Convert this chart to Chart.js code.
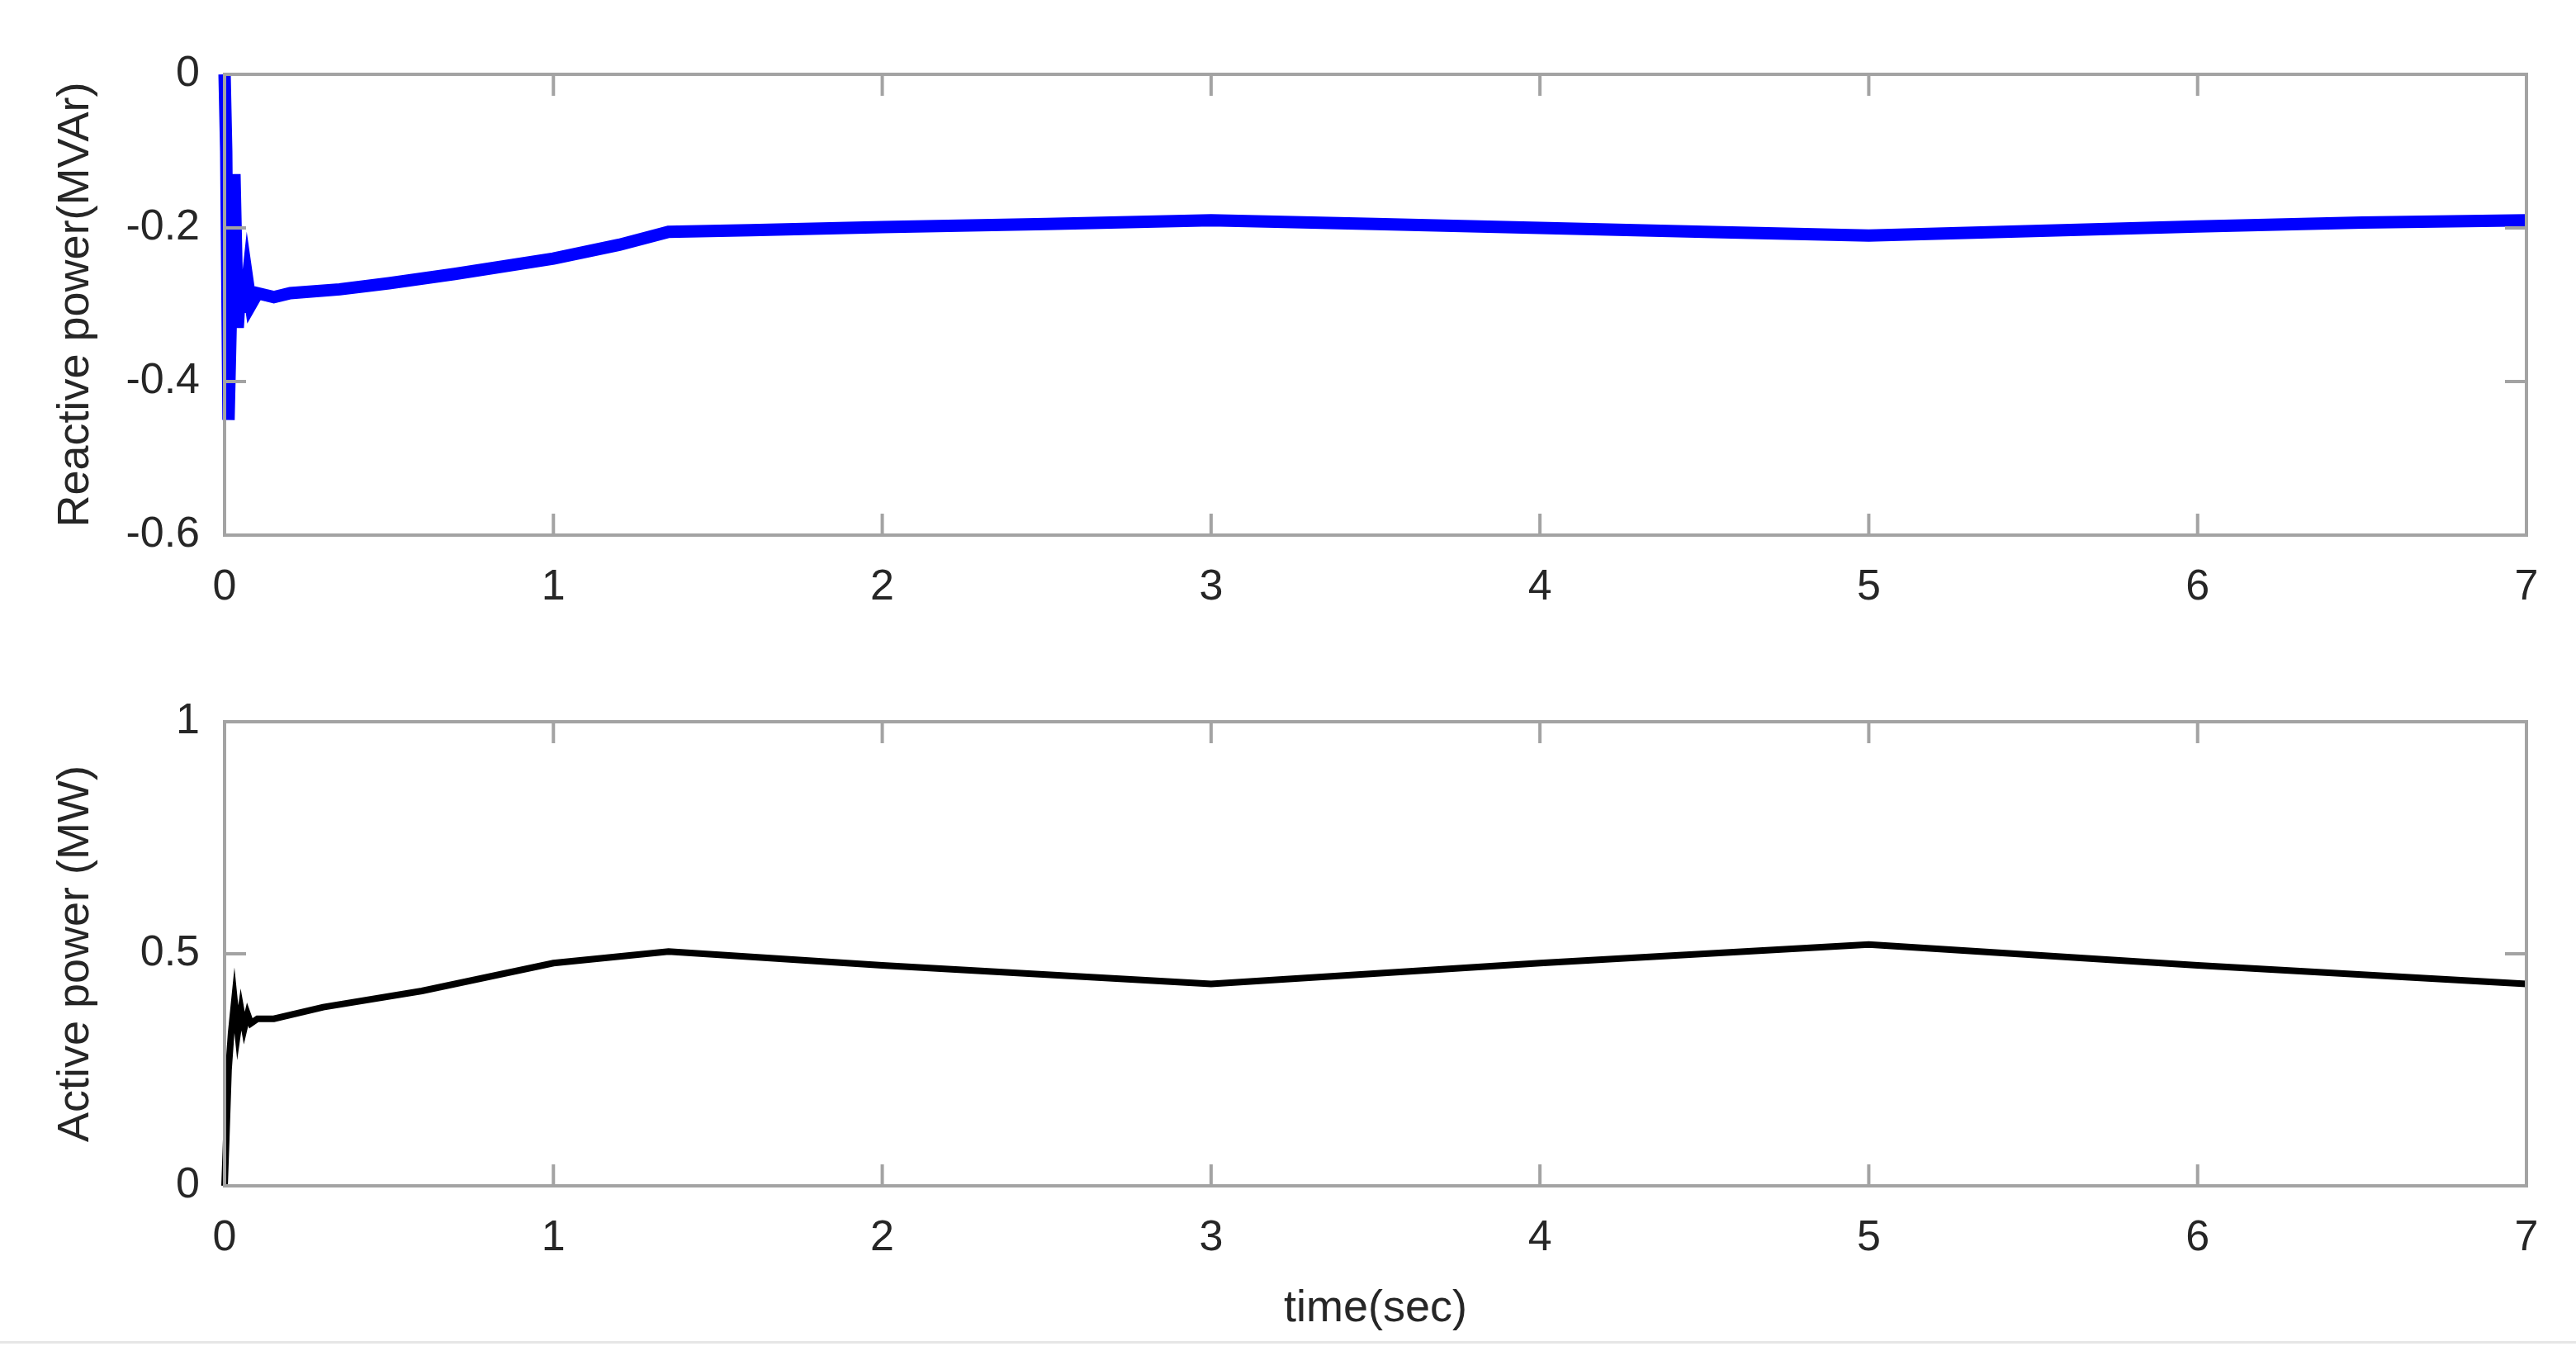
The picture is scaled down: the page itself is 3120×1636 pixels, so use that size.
<!DOCTYPE html>
<html><head><meta charset="utf-8">
<script src="https://cdn.jsdelivr.net/npm/chart.js@4.4.0/dist/chart.umd.min.js"></script>
<style>
html,body{margin:0;padding:0;background:#fff;width:3120px;height:1636px;overflow:hidden}
#c1w{position:absolute;left:0;top:0;width:3120px;height:800px}
#c2w{position:absolute;left:0;top:800px;width:3120px;height:836px}
#sep{position:absolute;left:0;top:1624px;width:3120px;height:3px;background:#e6e6e6}
</style></head><body>
<div id="c1w"><canvas id="c1"></canvas></div>
<div id="c2w"><canvas id="c2"></canvas></div>
<div id="sep"></div>
<script>
const timeQ = [0,0.005,0.012,0.02,0.03,0.04,0.05,0.06,0.07,0.08,0.1,0.15,0.2,0.35,0.5,0.7,1.0,1.2,1.35,1.6,2,2.5,3,3.5,4,4.5,5,5.5,6,6.5,7];
const reactive = [0,-0.1,-0.45,-0.3,-0.13,-0.33,-0.26,-0.31,-0.27,-0.3,-0.285,-0.29,-0.285,-0.28,-0.272,-0.26,-0.24,-0.222,-0.205,-0.203,-0.199,-0.195,-0.19,-0.195,-0.2,-0.205,-0.21,-0.204,-0.198,-0.193,-0.19];
const timeP = [0,0.005,0.012,0.02,0.03,0.04,0.05,0.06,0.07,0.08,0.1,0.15,0.3,0.6,1.0,1.35,2,3,4,5,6,7];
const active = [0,0.1,0.25,0.33,0.4,0.33,0.38,0.34,0.37,0.35,0.36,0.36,0.385,0.42,0.48,0.505,0.475,0.435,0.48,0.52,0.475,0.435];
const xTicks = [0,1,2,3,4,5,6,7];
const qTicks = [-0.6,-0.4,-0.2,0];
const pTicks = [0,0.5,1];

const FONT = "'Liberation Sans', Arial, sans-serif";
const GRAY = '#a3a3a3';
const TXT = '#262626';

const frame = {
  id:'frame',
  afterDatasetsDraw(chart){
    const {ctx, chartArea:a, scales:{x,y}} = chart;
    ctx.save();
    ctx.strokeStyle = GRAY; ctx.lineWidth = 4;
    ctx.strokeRect(a.left, a.top, a.right-a.left, a.bottom-a.top);
    const L = 26;
    ctx.beginPath();
    x.ticks.forEach(t=>{const px=x.getPixelForValue(t.value);
      ctx.moveTo(px,a.bottom);ctx.lineTo(px,a.bottom-L);ctx.moveTo(px,a.top);ctx.lineTo(px,a.top+L);});
    y.ticks.forEach(t=>{const py=y.getPixelForValue(t.value);
      ctx.moveTo(a.left,py);ctx.lineTo(a.left+L,py);ctx.moveTo(a.right,py);ctx.lineTo(a.right-L,py);});
    ctx.stroke();
    ctx.restore();
  }
};

function mk(id, xs, ys, color, width, yMin, yMax, yTicks, yTitle, xTitle, padTop, xH){
  new Chart(document.getElementById(id), {
    type:'line',
    data:{datasets:[{data:xs.map((t,i)=>({x:t,y:ys[i]})), borderColor:color, borderWidth:width, pointRadius:0, tension:0, clip:false}]},
    options:{
      responsive:true, maintainAspectRatio:false, animation:false, devicePixelRatio:1,
      layout:{padding:{top:padTop,right:60,left:0,bottom:0}},
      plugins:{legend:{display:false},tooltip:{enabled:false}},
      scales:{
        x:{type:'linear',min:0,max:7,
          afterBuildTicks:s=>{s.ticks=xTicks.map(v=>({value:v}));},
          afterFit:s=>{s.height=xH;},
          grid:{display:false}, border:{display:false},
          ticks:{color:TXT,font:{family:FONT,size:52},padding:24,maxRotation:0,callback:v=>String(v)},
          title:{display:!!xTitle,text:xTitle,color:TXT,font:{family:FONT,size:54},padding:{top:0,bottom:18}}},
        y:{min:yMin,max:yMax,
          afterBuildTicks:s=>{s.ticks=yTicks.map(v=>({value:v}));},
          afterFit:s=>{s.width=272;},
          grid:{display:false}, border:{display:false},
          ticks:{color:TXT,font:{family:FONT,size:52},padding:22,callback:v=>String(Math.round(v*10)/10)},
          title:{display:true,text:yTitle,color:TXT,font:{family:FONT,size:54},padding:{top:60,bottom:0}}}
      }
    },
    plugins:[frame]
  });
}
mk('c1', timeQ, reactive, '#0000ff', 15, -0.6, 0, qTicks, 'Reactive power(MVAr)', '', 90, 152);
mk('c2', timeP, active, '#000000', 8, 0, 1, pTicks, 'Active power (MW)', 'time(sec)', 74, 200);
</script>
</body></html>
